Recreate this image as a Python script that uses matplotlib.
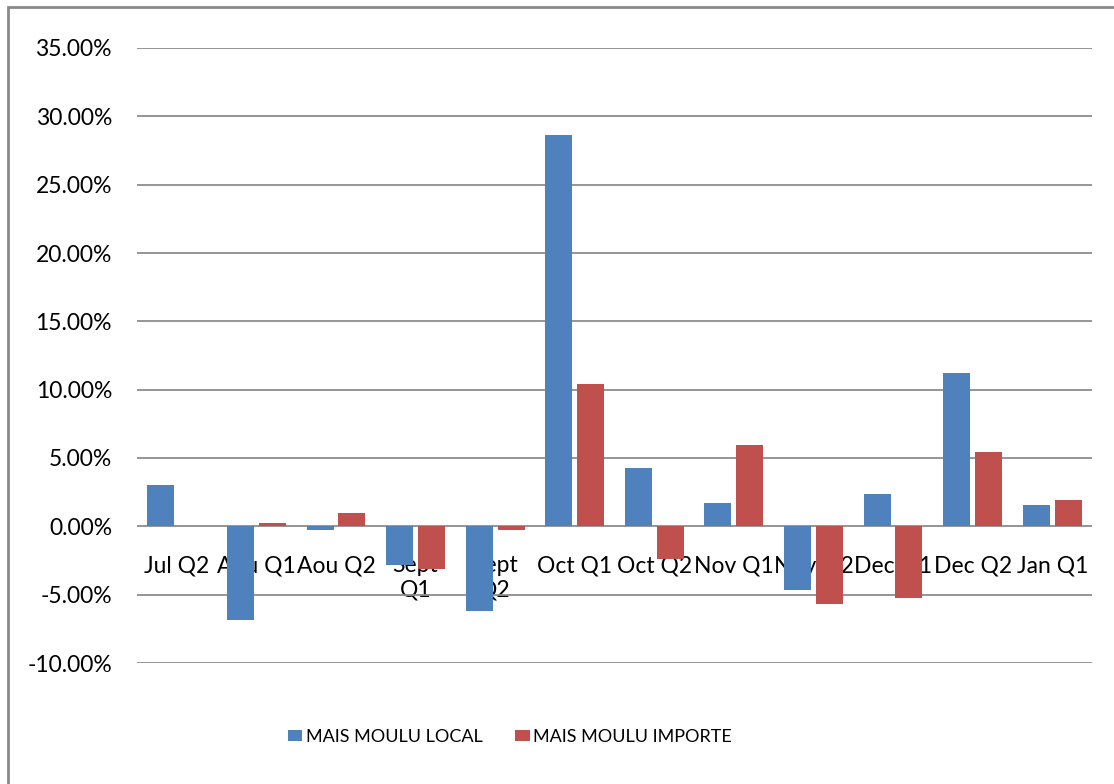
"""
plot.py
----------------------------------------------------------
Variation quinzaine par quinzaine du prix du mais moulu
(local vs importe), grouped bar chart saved to out.png.
"""

import numpy as np
import matplotlib
matplotlib.use("Agg")
import matplotlib.pyplot as plt
from matplotlib.patches import Rectangle
from matplotlib.ticker import FuncFormatter, MultipleLocator

# ---------------------------------------------------------------------
# 1. Data (percent change)
# ---------------------------------------------------------------------
periods = ["Jul Q2", "Aou Q1", "Aou Q2", "Sept\nQ1", "Sept\nQ2", "Oct Q1",
           "Oct Q2", "Nov Q1", "Nov Q2", "Dec Q1", "Dec Q2", "Jan Q1"]
mais_local = [3.0, -6.85, -0.3, -2.85, -6.2, 28.6, 4.25, 1.7, -4.65, 2.35, 11.2, 1.55]
mais_importe = [0.0, 0.25, 1.0, -3.1, -0.3, 10.4, -2.4, 5.95, -5.65, -5.25, 5.45, 1.95]

BLUE = "#4F81BD"
RED = "#C0504D"
FONT = ["Liberation Sans Narrow", "Lato", "DejaVu Sans"]

# ---------------------------------------------------------------------
# 2. Figure
# ---------------------------------------------------------------------
plt.rcParams["font.family"] = FONT
fig = plt.figure(figsize=(11.14, 7.84), dpi=100)

# outer chart frame (only top/left edges visible in the crop)
fig.patches.append(Rectangle((8 / 1114, -0.1), 1.2, 1.1 - 7 / 784,
                             transform=fig.transFigure, fill=False,
                             edgecolor="#8A8A8A", linewidth=2.0))

ax = fig.add_axes([137 / 1114, 1 - 663 / 784, (1092 - 137) / 1114, (663 - 48) / 784])

x = np.arange(len(periods))
w = 0.34
ax.bar(x - 0.2, mais_local, width=w, color=BLUE, label="MAIS MOULU LOCAL", zorder=3)
ax.bar(x + 0.2, mais_importe, width=w, color=RED, label="MAIS MOULU IMPORTE", zorder=3)

ax.set_xlim(-0.5, len(periods) - 0.5)
ax.set_ylim(-10, 35)
ax.yaxis.set_major_locator(MultipleLocator(5))
ax.yaxis.set_major_formatter(FuncFormatter(lambda v, _: f"{v:.2f}%"))
ax.grid(axis="y", color="#8C8C8C", linewidth=1.3, zorder=1)

ax.set_xticks(x)
ax.set_xticklabels(periods, linespacing=1.25)
for s in ax.spines.values():
    s.set_visible(False)
ax.spines["bottom"].set_position(("data", 0))

ax.tick_params(axis="x", length=0, pad=21, labelsize=16.5)
ax.tick_params(axis="y", length=0, pad=18, labelsize=16.5)

# ---------------------------------------------------------------------
# 3. Legend
# ---------------------------------------------------------------------
fig.legend(loc="center", bbox_to_anchor=(510 / 1114, 1 - 737 / 784), ncol=2,
           frameon=False, fontsize=13, handlelength=0.8, handleheight=0.55,
           handletextpad=0.2, columnspacing=1.8)

fig.savefig("out.png", dpi=100)
